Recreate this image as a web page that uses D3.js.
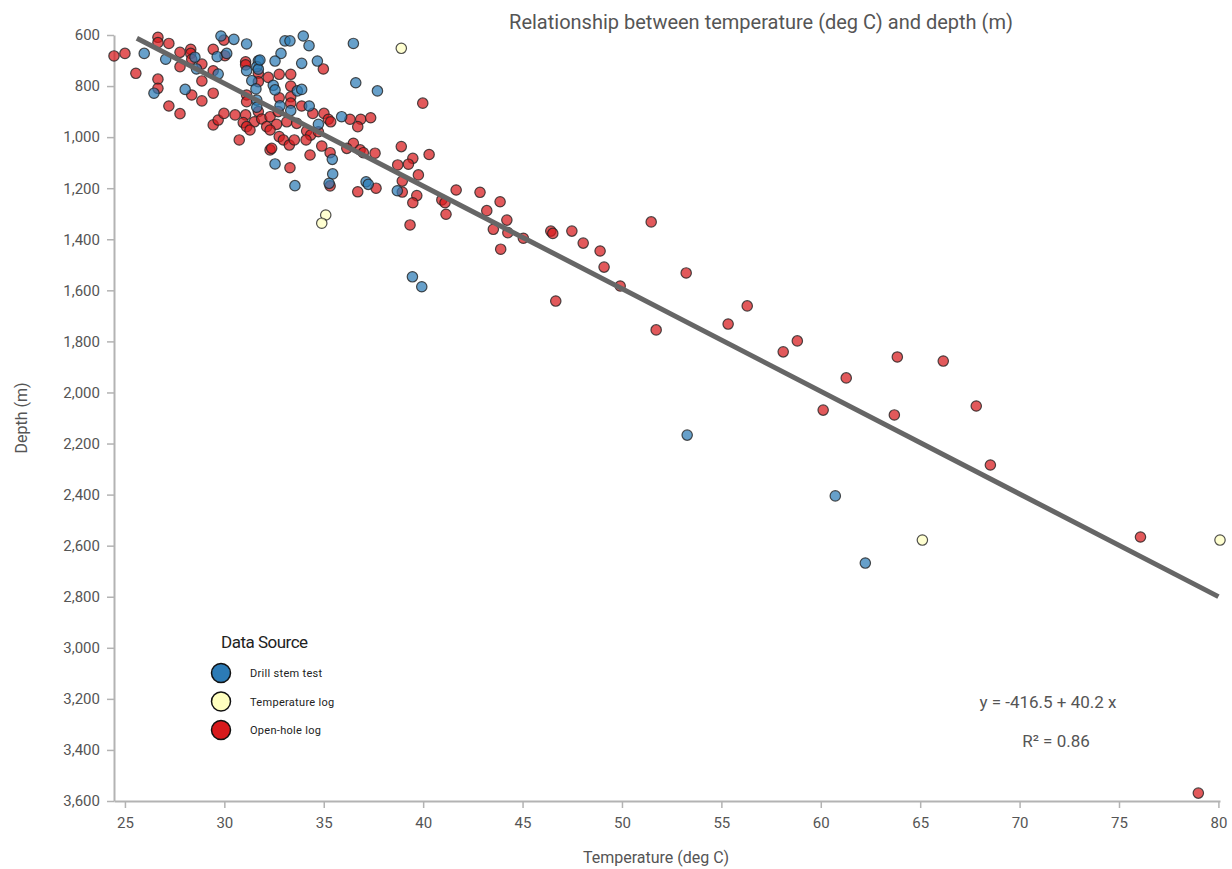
<!DOCTYPE html>
<html><head><meta charset="utf-8">
<script src="https://cdn.jsdelivr.net/npm/d3@7"></script>
<style>
body{margin:0;background:#fff;}
text{font-family:Roboto,"Liberation Sans",sans-serif;}
</style></head>
<body><svg id="c" width="1232" height="869"></svg>
<script>
// Drill stem test [temperature degC, depth m]
const drillStem = [
[25.97,672],[27.05,695],[28.52,687],[28.6,733],[29.83,604],[29.64,685],[30.12,672],[30.48,617],
[31.12,635],[29.69,753],[31.71,701],[31.63,724],[31.71,734],[31.12,740],[31.38,779],[31.59,811],
[26.46,828],[28.03,813],[31.63,855],[31.63,883],[33.97,604],[33.05,623],[33.3,623],[34.26,642],
[36.49,633],[32.85,672],[32.55,702],[33.89,711],[34.68,702],[31.79,698],[32.46,797],[32.55,815],
[36.61,787],[37.7,819],[33.67,819],[33.89,813],[34.27,878],[32.8,877],[33.34,896],[35.9,920],
[34.73,950],[35.43,1087],[35.45,1144],[35.27,1181],[32.55,1105],[33.55,1190],[37.13,1175],
[37.24,1185],[38.7,1210],[39.46,1547],[39.93,1586],[53.28,2167],[60.73,2405],[62.24,2668]
];
// Temperature log
const tempLog = [[38.9,652],[35.1,1305],[34.9,1337],[65.11,2578],[80.08,2578]];
// Open-hole log
const openHole = [
[24.45,682],[25.0,672],[25.55,750],[26.66,609],[26.66,630],[27.21,633],[27.77,668],[28.31,656],
[28.31,672],[28.36,695],[28.87,714],[29.44,656],[29.98,620],[30.03,681],[27.77,724],[29.44,740],
[31.07,705],[31.07,717],[31.71,750],[31.71,783],[32.21,766],[28.87,780],[26.66,773],[26.66,809],
[28.36,835],[28.87,858],[29.44,828],[27.21,878],[27.77,908],[31.12,835],[31.12,861],[31.71,900],
[29.44,952],[29.69,933],[29.98,907],[30.54,913],[31.07,913],[30.95,943],[31.51,940],[31.12,959],
[31.88,929],[32.13,959],[32.3,920],[30.75,1011],[31.29,972],[32.3,1050],[34.98,733],[32.76,754],
[33.34,754],[33.34,800],[39.98,867],[32.76,846],[33.34,842],[33.34,867],[33.89,878],[32.71,900],
[34.45,907],[35.01,907],[35.23,930],[35.35,940],[36.32,930],[36.86,930],[37.36,924],[36.71,959],
[32.63,950],[33.14,940],[33.64,946],[34.14,976],[34.34,992],[32.76,998],[32.97,1011],[33.27,1031],
[33.52,1011],[32.38,1044],[34.11,1011],[34.9,1035],[36.49,1024],[38.9,1037],[32.3,972],[34.73,979],
[34.31,1070],[35.32,1061],[36.16,1044],[36.83,1050],[36.99,1061],[37.58,1063],[39.48,1083],
[39.26,1106],[38.72,1109],[39.76,1148],[40.3,1068],[33.3,1120],[35.32,1191],[37.63,1200],
[36.71,1214],[38.95,1172],[38.95,1215],[39.68,1229],[39.48,1257],[39.34,1344],[41.66,1207],
[40.94,1246],[41.1,1257],[41.15,1302],[42.86,1216],[43.87,1253],[43.2,1288],[44.21,1325],
[43.53,1361],[44.26,1374],[45.04,1396],[43.9,1439],[46.42,1368],[46.52,1377],[47.48,1368],
[48.05,1415],[48.9,1446],[49.1,1509],[49.91,1583],[46.67,1642],[51.47,1332],[51.72,1755],
[53.23,1532],[55.34,1732],[56.3,1661],[58.11,1841],[58.82,1798],[61.28,1943],[60.12,2069],
[63.85,1861],[66.16,1877],[63.7,2088],[67.82,2053],[68.53,2284],[76.08,2566],[78.99,3569]
];
const xTicks = [25,30,35,40,45,50,55,60,65,70,75,80];
const yTicks = [600,800,1000,1200,1400,1600,1800,2000,2200,2400,2600,2800,3000,3200,3400,3600];
const fitIntercept = -416.5, fitSlope = 40.2;
const fitRange = [25.6, 80];
const legendLabels = ["Drill stem test","Temperature log","Open-hole log"];
const legendColors = ["#2c7bb6","#ffffbf","#d7191c"];

const svg = d3.select("#c");
const all = drillStem.concat(tempLog, openHole);
const x = d3.scaleLinear().domain(d3.extent(all, d=>d[0])).range([114,1220]);
const y = d3.scaleLinear().domain([600,3600]).range([35,801]);

// axes
const fmt = d3.format(",");
const gy = svg.append("g").attr("transform","translate(114,0)")
  .call(d3.axisLeft(y).tickValues(yTicks).tickFormat(fmt).tickSize(7).tickSizeOuter(0));
gy.select(".domain").attr("stroke","#b3b3b3").attr("stroke-width",2);
gy.selectAll(".tick line").attr("stroke","#b3b3b3").attr("stroke-width",1.5);
gy.selectAll(".tick text").attr("font-size",15).attr("fill","#555").attr("x",-14)
  .style("font-family","Roboto,sans-serif");
const gx = svg.append("g").attr("transform","translate(0,801)")
  .call(d3.axisBottom(x).tickValues(xTicks).tickSize(7).tickSizeOuter(0));
gx.select(".domain").attr("stroke","#b3b3b3").attr("stroke-width",2);
gx.selectAll(".tick line").attr("stroke","#b3b3b3").attr("stroke-width",1.5);
gx.selectAll(".tick text").attr("font-size",15).attr("fill","#555").attr("y",16)
  .style("font-family","Roboto,sans-serif");

// points
function dots(data, color){
  svg.append("g").selectAll("circle").data(data).join("circle")
    .attr("cx",d=>x(d[0])).attr("cy",d=>y(d[1])).attr("r",5.2)
    .attr("fill",color).attr("fill-opacity",0.72)
    .attr("stroke","#222").attr("stroke-opacity",0.8).attr("stroke-width",1.2);
}
dots(openHole, legendColors[2]);
dots(drillStem, legendColors[0]);
dots(tempLog, legendColors[1]);

// regression line
svg.append("line")
  .attr("x1",x(fitRange[0])).attr("y1",y(fitIntercept+fitSlope*fitRange[0]))
  .attr("x2",x(fitRange[1])).attr("y2",y(fitIntercept+fitSlope*fitRange[1]))
  .attr("stroke","#666").attr("stroke-width",5);

// titles
svg.append("text").attr("x",761).attr("y",29).attr("text-anchor","middle")
  .attr("font-size",20).attr("fill","#555").text("Relationship between temperature (deg C) and depth (m)");
svg.append("text").attr("x",656).attr("y",863).attr("text-anchor","middle")
  .attr("font-size",16).attr("fill","#555").text("Temperature (deg C)");
svg.append("text").attr("transform","translate(27,418) rotate(-90)").attr("text-anchor","middle")
  .attr("font-size",16).attr("fill","#555").text("Depth (m)");

// equation
svg.append("text").attr("x",1048).attr("y",708).attr("text-anchor","middle")
  .attr("font-size",17).attr("fill","#555").text("y = -416.5 + 40.2 x");
svg.append("text").attr("x",1056).attr("y",747).attr("text-anchor","middle")
  .attr("font-size",17).attr("fill","#555").text("R² = 0.86");

// legend
const lg = svg.append("g");
lg.append("text").attr("x",221).attr("y",648).attr("font-size",17).attr("fill","#222")
  .attr("letter-spacing",-0.5).text("Data Source");
legendLabels.forEach((l,i)=>{
  lg.append("circle").attr("cx",221).attr("cy",673+i*28.5).attr("r",9.5)
    .attr("fill",legendColors[i]).attr("stroke","#111").attr("stroke-width",1.5);
  lg.append("text").attr("x",250).attr("y",677+i*28.5).attr("font-size",11).attr("fill","#222")
    .attr("letter-spacing",0.3).text(l);
});
</script></body></html>
